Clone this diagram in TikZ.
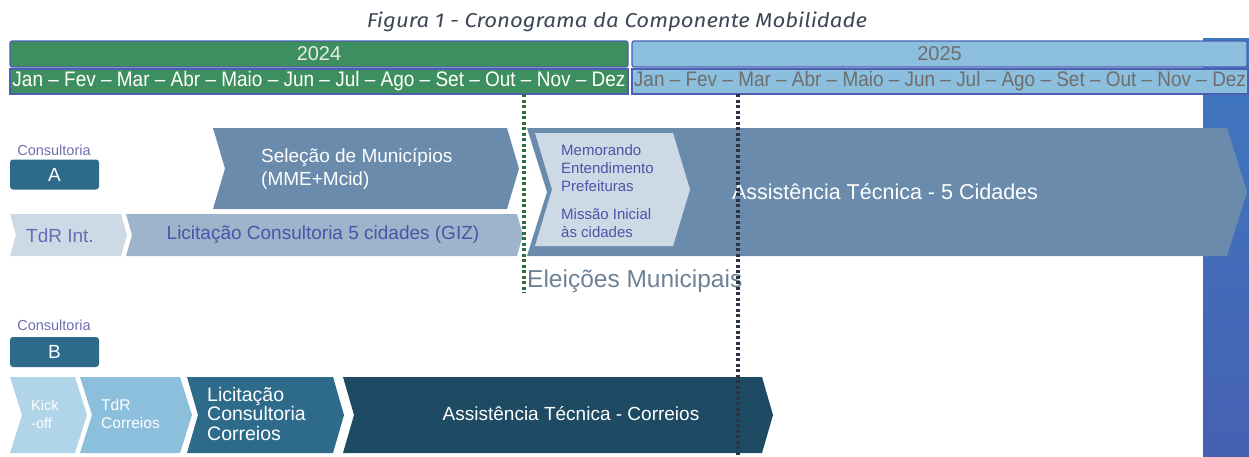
\documentclass[tikz,border=0pt]{standalone}
\usepackage{fontspec}
\setmainfont{Liberation Sans}
\newfontfamily\titlefont{Fira Sans}
\usepackage{graphicx}

\definecolor{yeargreen}{HTML}{3E8F5F}
\definecolor{yearblue}{HTML}{8CBFDD}
\definecolor{barborder}{HTML}{4A5FB5}
\definecolor{striptop}{HTML}{3F79C1}
\definecolor{stripbottom}{HTML}{4660B2}
\definecolor{slate}{HTML}{6A8BAB}
\definecolor{palegray}{HTML}{CDD9E4}
\definecolor{midgray}{HTML}{9DB4CA}
\definecolor{boxteal}{HTML}{2E6B8B}
\definecolor{kickblue}{HTML}{B0D4E8}
\definecolor{skyblue}{HTML}{8BBFDC}
\definecolor{darknavy}{HTML}{1F4A63}
\definecolor{inktext}{HTML}{4A55A8}
\definecolor{labelink}{HTML}{6E6EB0}
\definecolor{dotgreen}{HTML}{2F6E3E}
\definecolor{dotdark}{HTML}{2B3442}
\definecolor{titlegray}{HTML}{3D4756}
\definecolor{electext}{HTML}{6E8296}

% chevron: name, fill, left, tip, top, bottom, depth
\newcommand{\chevron}[7]{%
  \fill[#2] (#3,#5) -- ({#4-#7},#5) -- (#4,{(#5+#6)/2}) -- ({#4-#7},#6)
    -- (#3,#6) -- ({#3+#7},{(#5+#6)/2}) -- cycle;
  \coordinate (#1) at ({(#3+#4)/2},{(#5+#6)/2});
}
\newcommand{\monthrow}{Jan – Fev – Mar – Abr – Maio – Jun – Jul – Ago – Set – Out – Nov – Dez}

\tikzset{
  yearbar/.style={draw=barborder, line width=1.2pt, rounded corners=2pt, inner sep=0pt,
    minimum height=26, font=\fontsize{20}{20}\selectfont},
  monthbar/.style={draw=barborder, line width=1.2pt, inner sep=0pt, minimum height=25,
    font=\fontsize{21}{21}\selectfont},
  lettbox/.style={fill=boxteal, rounded corners=3pt, minimum width=89, minimum height=30,
    inner sep=0pt, text=white, font=\fontsize{19}{19}\selectfont},
  smalllabel/.style={text=labelink, inner sep=0pt, font=\fontsize{14.5}{14.5}\selectfont},
  intext/.style={inner sep=0pt, align=left},
  dotline/.style={line width=3.5pt, dash pattern=on 3pt off 2.5pt}
}

\begin{document}
\begin{tikzpicture}[x=1pt, y=-1pt]
  \useasboundingbox (0,0) rectangle (1249,456);

  % blue strip on the right
  \shade[top color=striptop, bottom color=stripbottom] (1203,38) rectangle (1249,456);

  % title
  \node[inner sep=0pt, text=titlegray, font=\titlefont\itshape\fontsize{20}{20}\selectfont]
    (title) at (617,22) {\resizebox{500pt}{\height}{Figura 1 - Cronograma da Componente Mobilidade}};

  % years and months
  \node[yearbar, fill=yeargreen, minimum width=618, text=white!92!black] (y2024) at (319,54) {2024};
  \node[yearbar, fill=yearblue, minimum width=615, text=black!57] (y2025) at (939.5,54) {2025};
  \node[monthbar, fill=yeargreen, minimum width=618, text=white] (m2024) at (319,81.5)
    {\resizebox{613pt}{\height}{\monthrow}};
  \node[monthbar, fill=yearblue, minimum width=616, text=black!57] (m2025) at (940,81.5)
    {\resizebox{612pt}{\height}{\monthrow}};

  % Consultoria A
  \node[smalllabel] (consA) at (54,150) {Consultoria};
  \node[lettbox] (boxA) at (54.5,174.5) {A};

  \chevron{sel}{slate}{213}{519}{128}{209}{12}
  \chevron{tdrint}{palegray}{10}{127}{214}{256}{6}
  \chevron{licgiz}{midgray}{126}{523}{214}{256}{6}
  \chevron{assist5}{slate}{527}{1247}{128}{256}{20}
  \chevron{memo}{palegray}{535}{690}{133}{246}{17}

  \node[intext, text=white, font=\fontsize{19}{23}\selectfont, anchor=west] (selText)
    at (261,169) {Seleção de Municípios\\(MME+Mcid)};
  \node[intext, text=inktext!85!white, font=\fontsize{19}{19}\selectfont] (tdrintText)
    at (60,236) {TdR Int.};
  \node[intext, text=inktext, font=\fontsize{19}{19}\selectfont] (licgizText)
    at (323,235) {Licitação Consultoria 5 cidades (GIZ)};
  \node[intext, text=white, font=\fontsize{21.5}{21.5}\selectfont] (assist5Text)
    at (885,192) {Assistência Técnica - 5 Cidades};
  \node[intext, text=inktext, font=\fontsize{15}{18}\selectfont, anchor=west] (memoText)
    at (561,191) {Memorando\\Entendimento\\Prefeituras\\[10pt]Missão Inicial\\às cidades};

  % Consultoria B
  \node[smalllabel] (consB) at (54,325) {Consultoria};
  \node[lettbox] (boxB) at (54.5,352) {B};

  \chevron{kick}{kickblue}{10}{87}{377}{453}{12}
  \chevron{tdrcor}{skyblue}{80}{192}{377}{453}{12}
  \chevron{liccor}{boxteal}{187}{344}{377}{453}{11}
  \chevron{assistcor}{darknavy}{343}{773}{377}{453}{11}

  \node[intext, text=white, font=\fontsize{14.5}{18}\selectfont, anchor=west] (kickText)
    at (31,414) {Kick\\-off};
  \node[intext, text=white, font=\fontsize{15.5}{18}\selectfont, anchor=west] (tdrcorText)
    at (101,414) {TdR\\Correios};
  \node[intext, text=white, font=\fontsize{19.5}{19.5}\selectfont, anchor=west] (liccorText)
    at (207,414) {Licitação\\Consultoria\\Correios};
  \node[intext, text=white, font=\fontsize{19}{19}\selectfont] (assistcorText)
    at (571,414) {Assistência Técnica - Correios};

  % elections and milestones
  \node[intext, text=electext, font=\fontsize{24.5}{24.5}\selectfont, anchor=west] (elec)
    at (527,281) {Eleições Municipais};
  \coordinate (greenTop) at (524,94);
  \coordinate (greenEnd) at (524,293);
  \coordinate (darkTop) at (738,94);
  \coordinate (darkEnd) at (738,456);
  \draw[dotline, dotgreen] (greenTop) -- (greenEnd);
  \draw[dotline, dotdark] (darkTop) -- (darkEnd);
\end{tikzpicture}
\end{document}
